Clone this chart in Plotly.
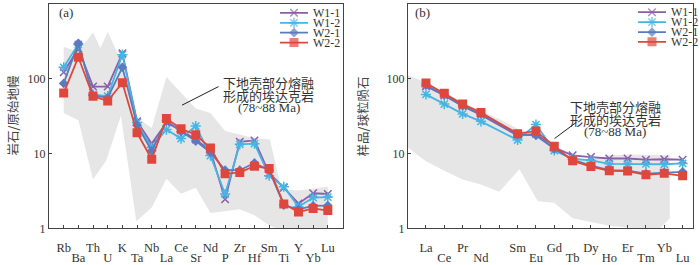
import plotly.graph_objects as go

W, H = 700, 265

# ---------------- data: primitive-mantle normalised spider diagram (a) ----------------
SPIDER = ["Rb", "Ba", "Th", "U", "K", "Ta", "Nb", "La", "Ce", "Sr",
          "Nd", "P", "Zr", "Hf", "Sm", "Ti", "Y", "Yb", "Lu"]
W1_1_A = [123, 255, 79, 79, 220, 27, 13.6, 26, 20.5, 15.5, 10.9, 2.45, 14.4, 15.0, 5.5, 3.5, 2.14, 2.95, 2.88]
W1_2_A = [143, 290, 61.5, 58.6, 211, 26, 12.1, 21, 15.9, 23.4, 9.4, 2.88, 13.3, 13.6, 5.06, 3.6, 1.94, 2.58, 2.62]
W2_1_A = [87, 299, 60, 55.7, 143, 24, 10.9, 27.5, 19.7, 14.7, 10.4, 6.0, 6.0, 7.5, 6.0, 2.05, 1.8, 2.0, 2.02]
W2_2_A = [64.6, 195, 58.6, 50.5, 88.7, 19, 8.4, 29.4, 21.5, 17.9, 11.9, 5.37, 5.6, 6.8, 6.3, 2.12, 1.65, 1.85, 1.73]

# lower-crust adakite field (78~88 Ma), envelope (a)
FIELD_A_UP_X = [0, 1, 2, 2.5, 3, 4, 5, 6, 7, 8, 9, 10, 11, 12, 13, 14.05, 14.85, 16, 17, 18]
FIELD_A_UP = [270, 230, 420, 258, 423, 160, 30, 22, 106, 65, 40, 35, 20, 18, 16, 15.5, 3.3, 3.2, 3.4, 3.6]
FIELD_A_LO_X = [18, 17, 16, 15, 14, 13, 12, 11, 10, 9, 8, 7, 6, 4.95, 3.9, 2.9, 2.0, 1, 0]
FIELD_A_LO = [0.9, 0.9, 0.9, 0.9, 1.1, 1.5, 1.8, 1.7, 1.6, 3.5, 2.9, 4.6, 1.9, 1.24, 32, 8.1, 4.5, 28, 35]

# ---------------- data: chondrite normalised REE diagram (b) ----------------
REE = ["La", "Ce", "Pr", "Nd", "Pm", "Sm", "Eu", "Gd", "Tb", "Dy", "Ho", "Er", "Tm", "Yb", "Lu"]
W1_1_B = [80, 60, 43, 33, None, 17.4, 18.5, 12, 9.5, 9.0, 8.6, 8.6, 8.3, 8.4, 8.3]
W1_2_B = [62, 46, 34, 27, None, 15.2, 24.5, 11.0, 8.5, 8.1, 7.3, 7.3, 7.3, 7.2, 7.4]
W2_1_B = [83, 61, 44, 34, None, 18, 17.5, 11.6, 8.3, 6.9, 6.0, 5.9, 5.4, 5.6, 5.7]
W2_2_B = [88, 64, 46, 35.5, None, 18.5, 20, 12.5, 8.0, 6.7, 5.9, 5.85, 5.2, 5.45, 5.05]

FIELD_B_UP_X = [-1, 0, 1, 2, 3, 4, 5, 6, 7, 8, 9, 10, 11, 12, 13, 13.3]
FIELD_B_UP = [112, 90, 63, 48, 37, 29, 21.5, 17, 12.5, 9.0, 8.3, 9.5, 9.7, 9.7, 9.6, 9.5]
FIELD_B_LO_X = [13.3, 12.8, 12, 11, 10, 9, 8, 7, 6.1, 5.1, 4, 3, 2, 1, 0, -1]
FIELD_B_LO = [1.37, 1.02, 0.97, 1.03, 1.08, 1.22, 1.37, 2.2, 2.3, 6.2, 3.1, 3.87, 4.5, 5.9, 7.9, 12.1]

SERIES = ["W1-1", "W1-2", "W2-1", "W2-2"]
COLORS = ["#8c5ea8", "#45b5e5", "#5a7cbf", "#e0473c"]
SYMBOLS = ["x-thin", "asterisk", "diamond", "square"]
SIZES = [7.5, 8.5, 7.5, 9]

TICKS_Y = [1, 10, 100, 1000]
TICKS_Y_TEXT = ["1", "10", "100", "1 000"]

FIELD_TEXT = ["下地壳部分熔融", "形成的埃达克岩", "(78~88 Ma)"]

# ---------------- geometry (pixels) ----------------
A_L, A_R = 49, 342.5
B_L, B_R = 408, 692.7
P_T, P_B = 4.3, 237.3
A_RANGE = [-1, 19]
B_RANGE = [-0.98, 14.55]


def px(x):
    return x / W


def py(y):
    return 1 - y / H


def xa(p):
    return A_RANGE[0] + (p - A_L) / (A_R - A_L) * (A_RANGE[1] - A_RANGE[0])


def xb(p):
    return B_RANGE[0] + (p - B_L) / (B_R - B_L) * (B_RANGE[1] - B_RANGE[0])


def yv(p):
    return 10 ** (3 * (P_B - p) / (P_B - P_T))


SERIF = "Liberation Serif"
CJK = "Noto Sans CJK SC"
TXT = "#333333"
AX = "#444444"

fig = go.Figure()

# fields
fig.add_trace(go.Scatter(x=FIELD_A_UP_X + FIELD_A_LO_X, y=FIELD_A_UP + FIELD_A_LO,
                         fill="toself", mode="lines", line=dict(width=0),
                         fillcolor="#e6e6e6", xaxis="x", yaxis="y", hoverinfo="skip"))
fig.add_trace(go.Scatter(x=FIELD_B_UP_X + FIELD_B_LO_X, y=FIELD_B_UP + FIELD_B_LO,
                         fill="toself", mode="lines", line=dict(width=0),
                         fillcolor="#e6e6e6", xaxis="x2", yaxis="y2", hoverinfo="skip"))

A_DATA = [W1_1_A, W1_2_A, W2_1_A, W2_2_A]
B_DATA = [W1_1_B, W1_2_B, W2_1_B, W2_2_B]


def marker(i, size=None):
    return dict(symbol=SYMBOLS[i], size=size or SIZES[i], color=COLORS[i],
                line=dict(width=1.5 if SYMBOLS[i] in ("x-thin", "asterisk") else 0, color=COLORS[i]))


for i, name in enumerate(SERIES):
    fig.add_trace(go.Scatter(x=list(range(len(SPIDER))), y=A_DATA[i], mode="lines+markers",
                             line=dict(color=COLORS[i], width=1.8), marker=marker(i),
                             xaxis="x", yaxis="y", name=name))
    fig.add_trace(go.Scatter(x=list(range(len(REE))), y=B_DATA[i], mode="lines+markers",
                             connectgaps=True,
                             line=dict(color=COLORS[i], width=1.8), marker=marker(i),
                             xaxis="x2", yaxis="y2", name=name))

# manual legends
LEG_A = dict(x0=280, x1=308, tx=312, rows=[13.3, 23.8, 34.0, 44.2])
LEG_B = dict(x0=638, x1=666, tx=670, rows=[12.7, 23.0, 33.4, 43.5])
annotations = []
for leg, conv, xr, yr in [(LEG_A, xa, "x", "y"), (LEG_B, xb, "x2", "y2")]:
    for i, name in enumerate(SERIES):
        yy = yv(leg["rows"][i])
        fig.add_trace(go.Scatter(x=[conv(leg["x0"]), conv((leg["x0"] + leg["x1"]) / 2), conv(leg["x1"])],
                                 y=[yy, yy, yy], mode="lines+markers",
                                 line=dict(color=COLORS[i], width=1.8),
                                 marker=dict(symbol=SYMBOLS[i], color=COLORS[i],
                                             size=[0, SIZES[i], 0],
                                             line=dict(width=1.5 if SYMBOLS[i] in ("x-thin", "asterisk") else 0,
                                                       color=COLORS[i])),
                                 xaxis=xr, yaxis=yr, hoverinfo="skip"))
        annotations.append(dict(x=px(leg["tx"]), y=py(leg["rows"][i]), xref="paper", yref="paper",
                                text=name, showarrow=False, xanchor="left", yanchor="middle",
                                borderpad=0,
                                font=dict(family=SERIF, size=12, color=TXT)))

# dummy invisible traces for second-row tick axes
fig.add_trace(go.Scatter(x=[0], y=[1], mode="markers", marker=dict(opacity=0), xaxis="x3", yaxis="y",
                         hoverinfo="skip"))
fig.add_trace(go.Scatter(x=[0], y=[1], mode="markers", marker=dict(opacity=0), xaxis="x4", yaxis="y2",
                         hoverinfo="skip"))

# panel labels
annotations.append(dict(x=px(57), y=py(13.5), xref="paper", yref="paper", text="(a)", showarrow=False,
                        xanchor="left", yanchor="middle", font=dict(family=SERIF, size=13, color=TXT)))
annotations.append(dict(x=px(413), y=py(13.5), xref="paper", yref="paper", text="(b)", showarrow=False,
                        xanchor="left", yanchor="middle", font=dict(family=SERIF, size=13, color=TXT)))

# y titles
annotations.append(dict(x=px(12), y=py(120), xref="paper", yref="paper", text="岩石/原始地幔",
                        showarrow=False, textangle=-90, xanchor="center", yanchor="middle",
                        font=dict(family=CJK, size=12.5, color="#444")))
annotations.append(dict(x=px(362), y=py(121), xref="paper", yref="paper", text="样品/球粒陨石",
                        showarrow=False, textangle=-90, xanchor="center", yanchor="middle",
                        font=dict(family=CJK, size=12.5, color="#444")))

# field labels
for cx, ys in [(268.5, [85.5, 99.3, 112.0]), (615, [111.0, 124.5, 137.0])]:
    for j, t in enumerate(FIELD_TEXT):
        annotations.append(dict(x=px(cx), y=py(ys[j]), xref="paper", yref="paper", text=t,
                                showarrow=False, xanchor="center", yanchor="middle", borderpad=0,
                                font=dict(family=CJK if j < 2 else SERIF, size=13,
                                          color=TXT)))

shapes = [
    dict(type="line", xref="paper", yref="paper", x0=px(182), y0=py(109.3), x1=px(218.5), y1=py(90),
         line=dict(color="#222", width=1)),
    dict(type="line", xref="paper", yref="paper", x0=px(554.5), y0=py(144), x1=px(576.5), y1=py(127),
         line=dict(color="#222", width=1)),
]

ydom = [py(P_B), py(P_T)]
common_x = dict(showline=True, linecolor=AX, linewidth=1, mirror=True, ticks="inside", ticklen=3,
                tickcolor=AX, showgrid=False, zeroline=False,
                tickfont=dict(family=SERIF, size=12.5, color=TXT))
common_y = dict(type="log", range=[0, 3], tickvals=TICKS_Y, ticktext=TICKS_Y_TEXT, showline=True,
                linecolor=AX, linewidth=1, mirror=True, ticks="inside", ticklen=3, tickcolor=AX,
                showgrid=False, zeroline=False, domain=ydom,
                tickfont=dict(family=SERIF, size=12, color=TXT))

a_row1 = list(range(0, len(SPIDER), 2))
a_row2 = list(range(1, len(SPIDER), 2))
b_row1 = [0, 2, 4, 5, 7, 9, 11, 13]
b_row2 = [1, 3, 6, 8, 10, 12, 14]

fig.update_layout(
    width=W, height=H, margin=dict(l=0, r=0, t=0, b=0),
    paper_bgcolor="white", plot_bgcolor="rgba(0,0,0,0)", showlegend=False,
    xaxis=dict(common_x, domain=[px(A_L), px(A_R)], range=A_RANGE, anchor="y",
               tickvals=a_row1, ticktext=[SPIDER[k] for k in a_row1], ticklabelstandoff=8),
    xaxis3=dict(common_x, domain=[px(A_L), px(A_R)], range=A_RANGE, anchor="y", overlaying="x",
                showline=False, mirror=False,
                tickvals=a_row2, ticktext=[SPIDER[k] for k in a_row2], ticklabelstandoff=20),
    yaxis=dict(common_y, anchor="x"),
    xaxis2=dict(common_x, domain=[px(B_L), px(B_R)], range=B_RANGE, anchor="y2",
                tickvals=b_row1, ticktext=["" if REE[k] == "Pm" else REE[k] for k in b_row1],
                ticklabelstandoff=8),
    xaxis4=dict(common_x, domain=[px(B_L), px(B_R)], range=B_RANGE, anchor="y2", overlaying="x2",
                showline=False, mirror=False,
                tickvals=b_row2, ticktext=[REE[k] for k in b_row2], ticklabelstandoff=20),
    yaxis2=dict(common_y, anchor="x2"),
    annotations=annotations, shapes=shapes,
)

fig.write_html("out.html", config={"displayModeBar": False},
               post_script="document.body.style.margin='0px';document.body.style.padding='0px';")
